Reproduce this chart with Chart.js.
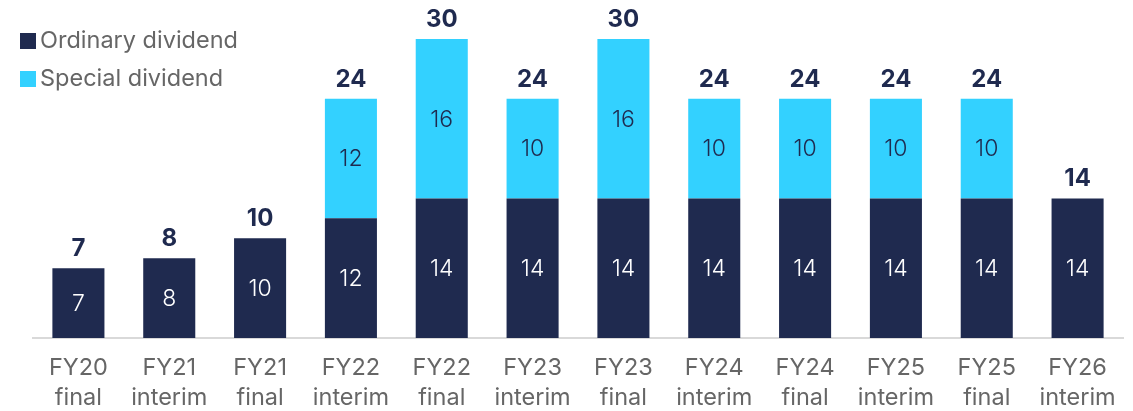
<!DOCTYPE html>
<html>
<head>
<meta charset="utf-8">
<script src="https://cdn.jsdelivr.net/npm/chart.js@4"></script>
<style>
  body { margin: 0; background: #fff; }
  #wrap { width: 1133px; height: 411px; }
</style>
</head>
<body>
<div id="wrap"><canvas id="myChart" width="1133" height="411"></canvas></div>
<script>
// Dividends per period
const periods = [['FY20', 'final'], ['FY21', 'interim'], ['FY21', 'final'], ['FY22', 'interim'], ['FY22', 'final'],
    ['FY23', 'interim'], ['FY23', 'final'], ['FY24', 'interim'], ['FY24', 'final'], ['FY25', 'interim'],
    ['FY25', 'final'], ['FY26', 'interim']];
const ordinary = [7, 8, 10, 12, 14, 14, 14, 14, 14, 14, 14, 14];
const special = [0, 0, 0, 12, 16, 10, 16, 10, 10, 10, 10, 0];
const seriesNames = ['Ordinary dividend', 'Special dividend'];

const navy = '#1F2A4F';
const cyan = '#33D1FF';
const FONT = 'Inter, "Noto Sans", sans-serif';

//Value labels + legend drawn by hand
const labelPlugin = {
    id: 'labels',
    afterDatasetsDraw(chart) {
        const ctx = chart.ctx;
        ctx.save();
        ctx.textAlign = 'center';
        ctx.textBaseline = 'middle';
        ctx.font = '300 23px ' + FONT;
        chart.data.datasets.forEach(function (ds, i) {
            const meta = chart.getDatasetMeta(i);
            meta.data.forEach(function (bar, j) {
                if (!ds.data[j]) return;
                ctx.fillStyle = i === 0 ? '#FFFFFF' : navy;
                ctx.fillText(ds.data[j], bar.x, (bar.y + bar.base) / 2 + 1);
            });
        });
        // totals
        ctx.font = '700 24px ' + FONT;
        ctx.fillStyle = navy;
        ctx.textBaseline = 'alphabetic';
        const yScale = chart.scales.y;
        const top = chart.getDatasetMeta(0).data;
        ordinary.forEach(function (v, j) {
            const total = v + special[j];
            ctx.fillText(total, top[j].x, yScale.getPixelForValue(total) - 12);
        });
        // legend
        ctx.textAlign = 'left';
        ctx.textBaseline = 'middle';
        ctx.font = '400 23.5px ' + FONT;
        [navy, cyan].forEach(function (c, i) {
            const y = 41 + i * 38;
            ctx.fillStyle = c;
            ctx.fillRect(20, y - 8, 16, 16);
            ctx.fillStyle = '#666666';
            ctx.fillText(seriesNames[i], 40, y);
        });
        ctx.restore();
    }
};

const ctx = document.getElementById('myChart').getContext('2d');
const myChart = new Chart(ctx, {
    type: 'bar',
    data: {
        labels: periods,
        datasets: [{
            label: seriesNames[0],
            data: ordinary,
            backgroundColor: navy,
            barPercentage: 0.573,
            categoryPercentage: 1
        }, {
            label: seriesNames[1],
            data: special,
            backgroundColor: cyan,
            barPercentage: 0.573,
            categoryPercentage: 1
        }]
    },
    options: {
        responsive: false,
        animation: false,
        layout: { padding: { left: 33, right: 10, top: 9, bottom: 0 } },
        plugins: {
            legend: { display: false },
            tooltip: { enabled: false }
        },
        scales: {
            x: {
                stacked: true,
                grid: { display: false, drawTicks: false },
                border: { color: '#D9D9D9', width: 2 },
                ticks: {
                    color: '#666666',
                    font: { family: FONT, size: 23.5, lineHeight: 1.28 },
                    padding: 15,
                    maxRotation: 0,
                    autoSkip: false
                },
                afterFit: function (scale) { scale.height = 73; }
            },
            y: {
                stacked: true,
                display: false,
                min: 0,
                max: 33
            }
        }
    },
    plugins: [labelPlugin]
});
</script>
</body>
</html>
